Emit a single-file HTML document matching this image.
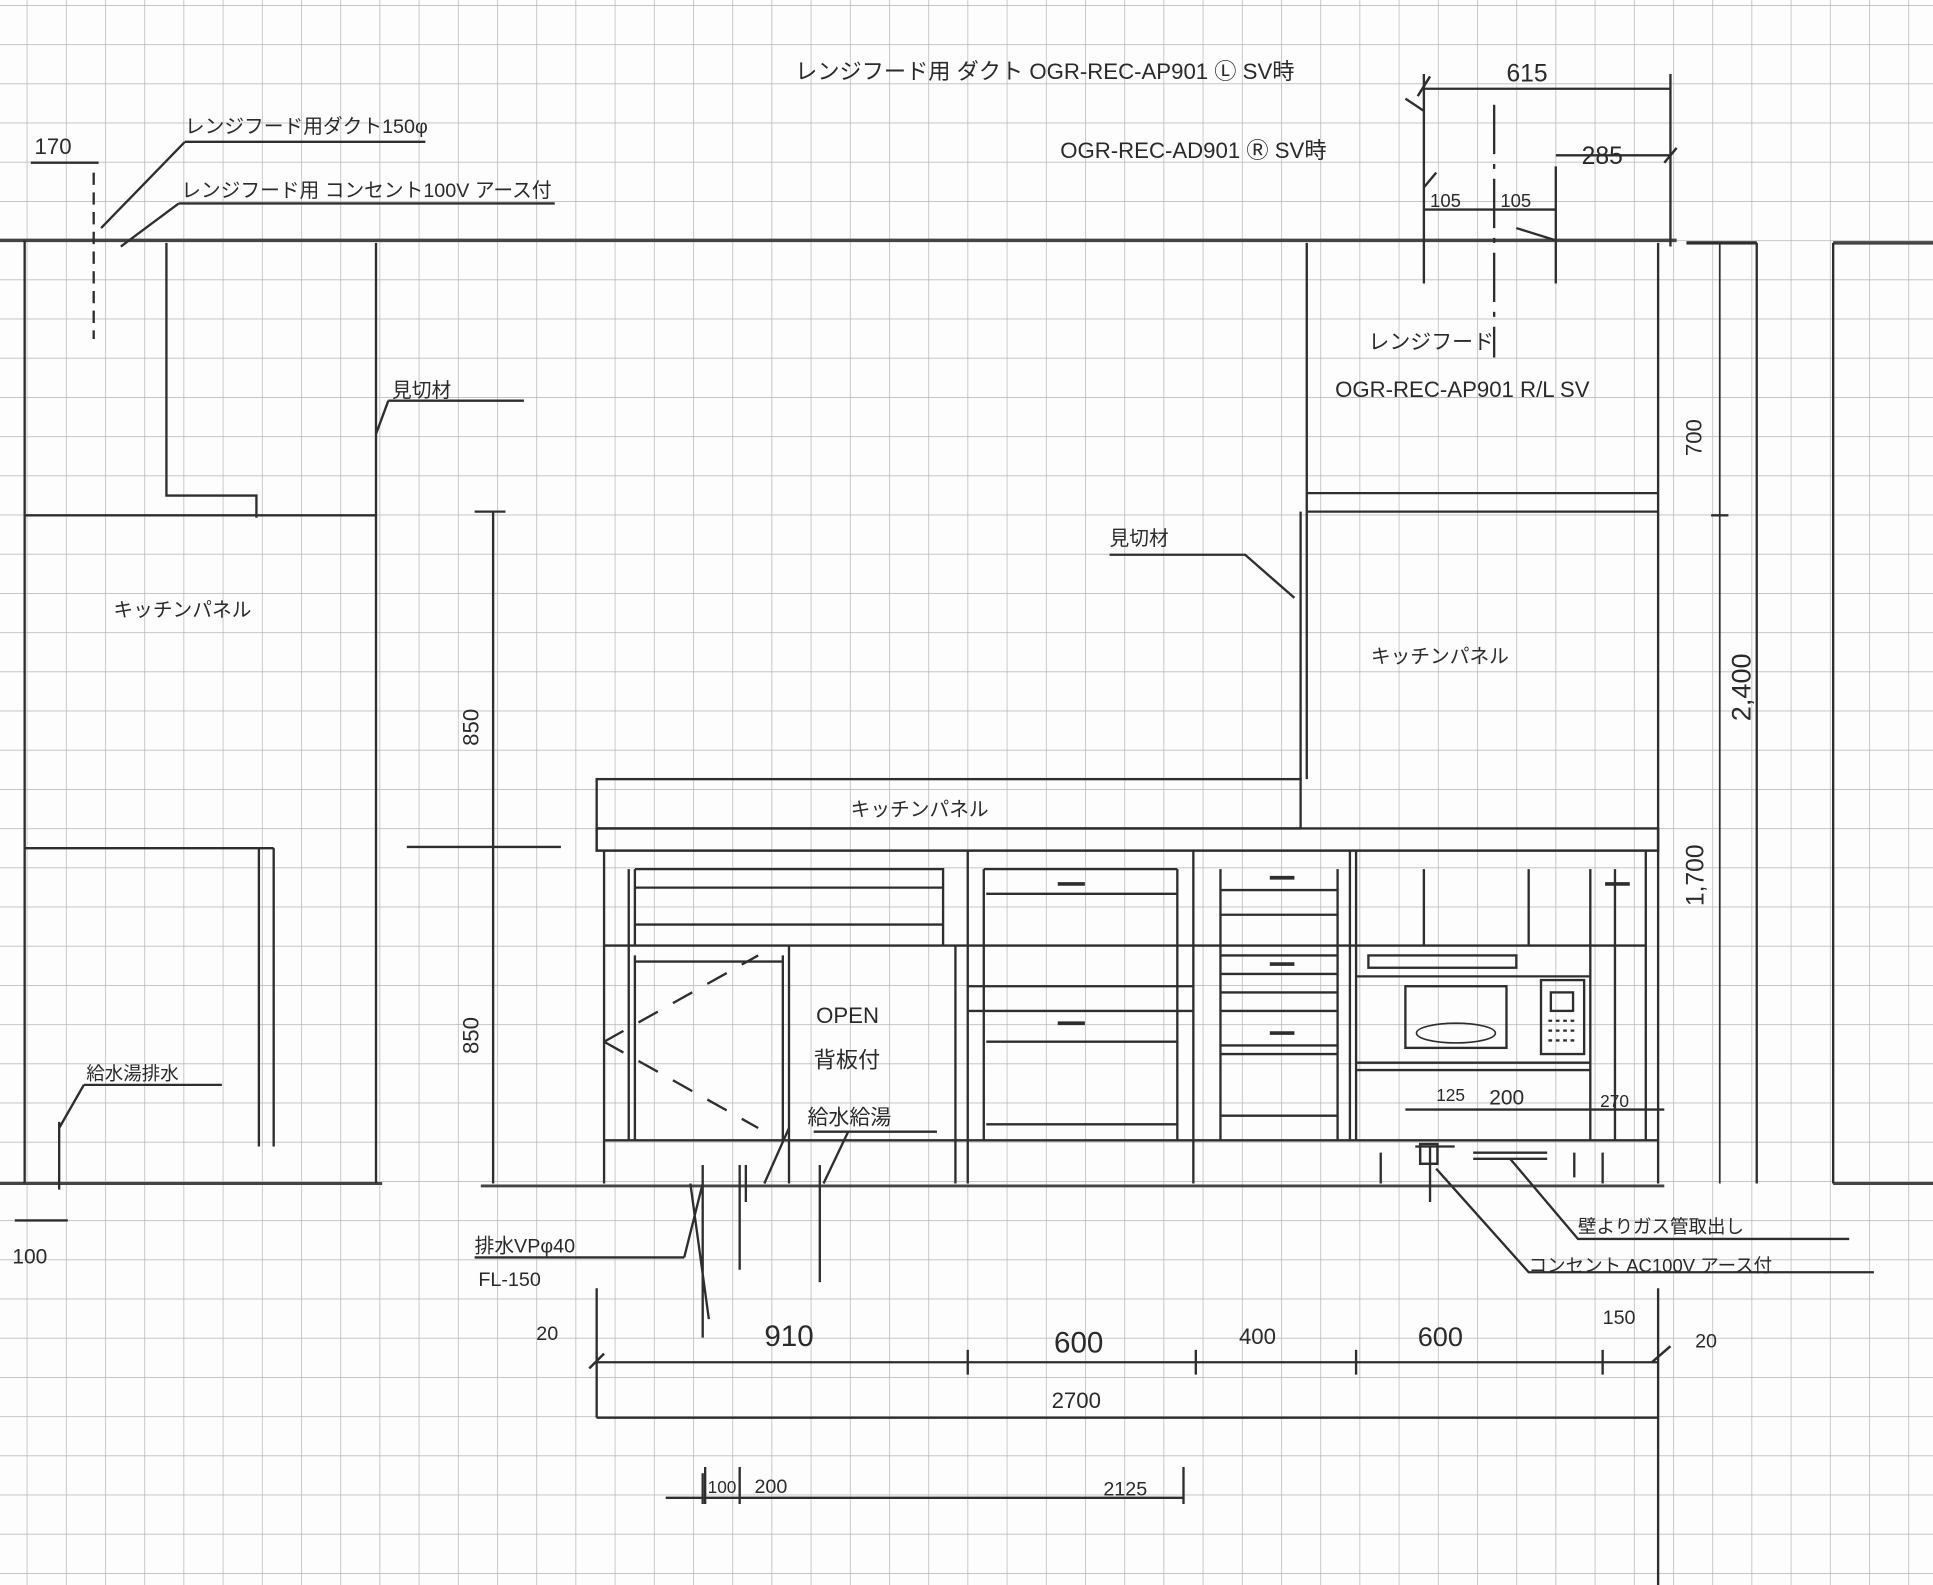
<!DOCTYPE html>
<html><head><meta charset="utf-8"><style>
html,body{margin:0;padding:0;background:#fff;}
svg{display:block;}
text{font-family:"Liberation Sans","Noto Sans CJK JP",sans-serif;fill:#2a2a2a;}
</style></head><body>
<svg width="1933" height="1585" viewBox="0 0 1933 1585" xmlns="http://www.w3.org/2000/svg">
<defs>
<pattern id="g" x="26.7" y="5" width="39.2" height="39.2" patternUnits="userSpaceOnUse">
<path d="M0 0H39.2M0 0V39.2" stroke="#b4b4b4" stroke-width="1.4" fill="none"/>
</pattern>
</defs>
<rect width="1933" height="1585" fill="#fdfdfd"/>
<rect width="1933" height="1585" fill="url(#g)"/>
<g transform="scale(1.2328)" stroke="#2e2e2e" fill="none" stroke-width="1.9">
<path d="M0 195H1360M1368 197H1425M1487 197H1568" stroke-width="2.8" stroke="#444"/>
<path d="M0 960H310M390 962H1350M1487 960H1568" stroke-width="2.4" stroke="#444"/>
<path d="M20 195V960M135 197V402H208V420M20 418H305M305 197V960M20 688H222M210 688V930M222 688V930"/>
<path d="M76 140V275" stroke-dasharray="10 6"/>
<path d="M1060 197V632M1055 415V632M1060 400H1345M1060 415H1345M1345 197V960" />
<path d="M1425 197V960M1487 197V960M1368 197H1425M1388 418H1402"/>
<path d="M1395 197V960" stroke-width="1.4"/>
<path d="M1155 60V230M1262 135V230" />
<path d="M1212 85V290" stroke-dasharray="40 8 4 8"/>
<path d="M1155 72H1355M1262 126H1355M1155 170H1262M1355 60V200"/>
<rect x="484" y="632" width="571" height="40"/>
<path d="M484 672H1345V690H484Z" stroke-width="2"/>
<path d="M490 690V960M510 705V925M785 690V960M775 767V960M968 690V960M1095 690V925M1100 690V925M1290 705V925M1310 705V925M1335 690V925"/>
<path d="M490 767H785M490 925H1345M785 767H968M968 767H1100M1100 767H1335"/>
<path d="M515 705H765V767M515 720H765M515 750H765M515 705V767"/>
<path d="M515 775V925M635 775V925M640 767V960M515 780H635"/>
<path d="M490 845L615 775M490 845L615 915" stroke-dasharray="18 14"/>
<path d="M798 705V925M955 705V925M800 725H955M785 800H968M785 820H968M800 845H955M800 912H955M798 705H955"/>
<path d="M858 717H880M858 830H880" stroke-width="3"/>
<path d="M990 705V925M1085 705V925M990 722H1085M990 742H1085M990 775H1085M990 790H1085M990 805H1085M990 820H1085M990 848H1085M990 855H1085M990 905H1085"/>
<path d="M1030 712H1050M1030 782H1050M1030 838H1050M1302 717H1322" stroke-width="3"/>
<path d="M1155 705V767M1240 705V767"/>
<rect x="1110" y="775" width="120" height="10"/>
<path d="M1100 792H1290M1100 862H1290M1100 868H1290"/>
<rect x="1140" y="800" width="82" height="50"/>
<ellipse cx="1181" cy="838" rx="32" ry="8" stroke-width="1.3"/>
<rect x="1250" y="795" width="35" height="60"/>
<rect x="1258" y="805" width="18" height="15"/>
<path d="M1256 828h22M1256 836h22M1256 844h22" stroke-dasharray="3 3"/>
<path d="M1140 900H1350M1148 930H1180M1195 935H1255M1195 940H1255" />
<rect x="1152" y="928" width="14" height="16" stroke-width="2"/>
<path d="M1160 930V975M1120 935V960M1277 935V955M1300 935V960"/>
<path d="M1165 948L1240 1032H1520M1225 940L1280 1005H1500"/>
<path d="M150 115H345M150 115L82 185M145 165H450M145 165L98 200M25 132H80"/>
<path d="M315 325H425M315 325L305 352M900 450H1010L1050 485"/>
<path d="M68 880H180M68 880L48 915M48 910V965M12 990H55"/>
<path d="M555 1020H385M555 1020L570 960M560 960L575 1070M570 945V1085M600 945V1030M605 945V975M640 915L620 960"/>
<path d="M660 918H760M688 918L668 960M665 945V1040"/>
<path d="M400 415V960M385 415H410M330 687H455"/>
<path d="M484 1045V1150M1345 1045V1290M484 1105H1345M484 1150H1345M785 1095V1115M970 1095V1115M1100 1095V1115M1300 1095V1115M540 1215H960M572 1190V1220M600 1190V1220M960 1190V1220M570 1195V1220"/>
<path d="M1340 1105L1355 1092M478 1110L490 1098M1150 78L1160 62M1350 132L1360 120" stroke-width="2"/>
<path d="M1165 140L1155 152M1140 80L1155 90M1230 185L1262 195"/>
</g>
<g transform="scale(1.2328)" font-size="18">
<text x="645" y="64">レンジフード用 ダクト  OGR-REC-AP901 Ⓛ SV時</text>
<text x="860" y="128">OGR-REC-AD901 Ⓡ SV時</text>
<text x="1222" y="66" font-size="20">615</text>
<text x="1283" y="133" font-size="20">285</text>
<text x="1160" y="168" font-size="15">105</text>
<text x="1217" y="168" font-size="15">105</text>
<text x="1110" y="283" font-size="17">レンジフード</text>
<text x="1083" y="322" font-size="18">OGR-REC-AP901 R/L SV</text>
<text x="1380" y="370" transform="rotate(-90 1380 370)" font-size="18">700</text>
<text x="1420" y="585" transform="rotate(-90 1420 585)" font-size="22">2,400</text>
<text x="1382" y="735" transform="rotate(-90 1382 735)" font-size="20">1,700</text>
<text x="28" y="125" font-size="18">170</text>
<text x="150" y="108" font-size="16">レンジフード用ダクト150φ</text>
<text x="147" y="160" font-size="16">レンジフード用 コンセント100V アース付</text>
<text x="318" y="322" font-size="16">見切材</text>
<text x="900" y="442" font-size="16">見切材</text>
<text x="92" y="500" font-size="16">キッチンパネル</text>
<text x="1112" y="538" font-size="16">キッチンパネル</text>
<text x="690" y="662" font-size="16">キッチンパネル</text>
<text x="388" y="605" transform="rotate(-90 388 605)" font-size="18">850</text>
<text x="388" y="855" transform="rotate(-90 388 855)" font-size="18">850</text>
<text x="662" y="830" font-size="18">OPEN</text>
<text x="660" y="866" font-size="18">背板付</text>
<text x="655" y="912" font-size="17">給水給湯</text>
<text x="70" y="876" font-size="15">給水湯排水</text>
<text x="10" y="1025" font-size="17">100</text>
<text x="385" y="1016" font-size="16">排水VPφ40</text>
<text x="388" y="1043" font-size="16">FL-150</text>
<text x="1165" y="893" font-size="14">125</text>
<text x="1208" y="896" font-size="17">200</text>
<text x="1298" y="898" font-size="14">270</text>
<text x="1280" y="1000" font-size="15">壁よりガス管取出し</text>
<text x="1240" y="1032" font-size="15">コンセント AC100V アース付</text>
<text x="435" y="1087" font-size="16">20</text>
<text x="620" y="1092" font-size="24">910</text>
<text x="855" y="1097" font-size="24">600</text>
<text x="1005" y="1090" font-size="18">400</text>
<text x="1150" y="1092" font-size="22">600</text>
<text x="1300" y="1074" font-size="16">150</text>
<text x="1375" y="1093" font-size="16">20</text>
<text x="853" y="1142" font-size="18">2700</text>
<text x="574" y="1211" font-size="14">100</text>
<text x="612" y="1211" font-size="16">200</text>
<text x="895" y="1213" font-size="16">2125</text>
</g>
</svg>
</body></html>
